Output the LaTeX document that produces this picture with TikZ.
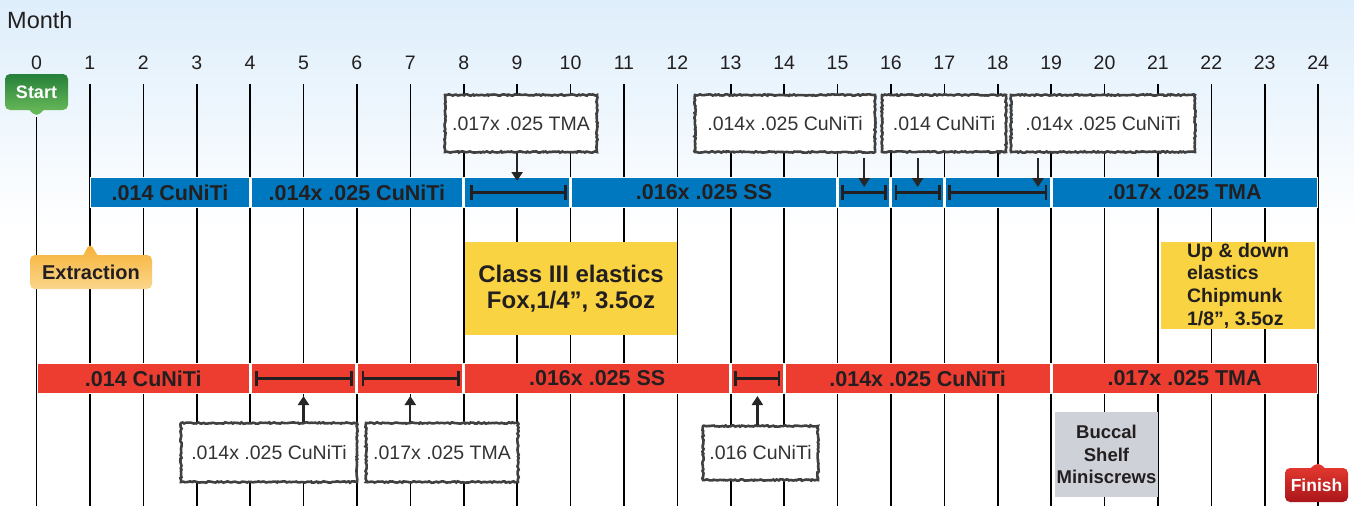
\documentclass[tikz,border=0pt]{standalone}
\usepackage{fontspec}
\setmainfont{Liberation Sans}
\usetikzlibrary{arrows.meta,shapes.callouts,decorations.pathmorphing}

\definecolor{barblue}{RGB}{0,120,192}
\definecolor{barred}{RGB}{237,60,48}
\definecolor{noteyellow}{RGB}{249,211,66}
\definecolor{notegray}{RGB}{206,209,215}
\definecolor{inkgray}{RGB}{35,31,32}
\definecolor{skyblue}{RGB}{222,238,251}
\definecolor{startdark}{RGB}{38,128,58}
\definecolor{startlight}{RGB}{112,192,92}
\definecolor{extrdark}{RGB}{246,176,50}
\definecolor{extrlight}{RGB}{250,214,140}
\definecolor{finlight}{RGB}{234,60,50}
\definecolor{findark}{RGB}{170,22,26}

\newcommand{\pxfont}[2]{\fontsize{#1}{#2}\selectfont}

\tikzset{
  month/.style={anchor=base,inner sep=0,text=inkgray,font=\pxfont{19.5}{22}},
  gridline/.style={line width=1.6,black},
  seg/.style={minimum height=30,inner sep=0,outer sep=0,draw=white,line width=1.5,
    text=inkgray,font=\bfseries\pxfont{21.5}{24}},
  blueseg/.style={seg,fill=barblue},
  redseg/.style={seg,fill=barred},
  wirespan/.style={{Bar[width=15]}-{Bar[width=15]},line width=2.8,inkgray},
  wirebox/.style={fill=white,draw=black!75,line width=2.6,decorate,
    decoration={random steps,segment length=1.8,amplitude=0.7},
    minimum height=57,inner sep=0,text=black!80,font=\pxfont{19.5}{22}},
  feedarrow/.style={-{Triangle[width=11,length=9]},line width=2.2,black!85},
  elastic/.style={fill=noteyellow,inner sep=0,align=center,text=inkgray},
  bubble/.style={rectangle callout,rounded corners=5,inner sep=0,
    callout pointer width=14,font=\bfseries\pxfont{18}{20}}
}

\begin{document}
\begin{tikzpicture}[x=1pt,y=1pt,yscale=-1]
\useasboundingbox (0,0) rectangle (1354,506);
\shade [top color=skyblue,bottom color=white] (0,0) rectangle (1354,230);

\node [anchor=base west,inner sep=0,text=inkgray,font=\pxfont{23.5}{26}] (title) at (7,28) {Month};

% month grid
\draw [gridline] (36.5,117) -- (36.5,506);   \node [month] (m0) at (36.5,69.5) {0};
\draw [gridline] (89.9,84) -- (89.9,506);    \node [month] (m1) at (89.9,69.5) {1};
\draw [gridline] (143.3,84) -- (143.3,506);  \node [month] (m2) at (143.3,69.5) {2};
\draw [gridline] (196.7,84) -- (196.7,506);  \node [month] (m3) at (196.7,69.5) {3};
\draw [gridline] (250.1,84) -- (250.1,506);  \node [month] (m4) at (250.1,69.5) {4};
\draw [gridline] (303.5,84) -- (303.5,506);  \node [month] (m5) at (303.5,69.5) {5};
\draw [gridline] (356.9,84) -- (356.9,506);  \node [month] (m6) at (356.9,69.5) {6};
\draw [gridline] (410.3,84) -- (410.3,506);  \node [month] (m7) at (410.3,69.5) {7};
\draw [gridline] (463.7,84) -- (463.7,506);  \node [month] (m8) at (463.7,69.5) {8};
\draw [gridline] (517.1,84) -- (517.1,506);  \node [month] (m9) at (517.1,69.5) {9};
\draw [gridline] (570.5,84) -- (570.5,506);  \node [month] (m10) at (570.5,69.5) {10};
\draw [gridline] (623.9,84) -- (623.9,506);  \node [month] (m11) at (623.9,69.5) {11};
\draw [gridline] (677.3,84) -- (677.3,506);  \node [month] (m12) at (677.3,69.5) {12};
\draw [gridline] (730.7,84) -- (730.7,506);  \node [month] (m13) at (730.7,69.5) {13};
\draw [gridline] (784.1,84) -- (784.1,506);  \node [month] (m14) at (784.1,69.5) {14};
\draw [gridline] (837.5,84) -- (837.5,506);  \node [month] (m15) at (837.5,69.5) {15};
\draw [gridline] (890.9,84) -- (890.9,506);  \node [month] (m16) at (890.9,69.5) {16};
\draw [gridline] (944.3,84) -- (944.3,506);  \node [month] (m17) at (944.3,69.5) {17};
\draw [gridline] (997.7,84) -- (997.7,506);  \node [month] (m18) at (997.7,69.5) {18};
\draw [gridline] (1051.1,84) -- (1051.1,506);\node [month] (m19) at (1051.1,69.5) {19};
\draw [gridline] (1104.5,84) -- (1104.5,506);\node [month] (m20) at (1104.5,69.5) {20};
\draw [gridline] (1157.9,84) -- (1157.9,506);\node [month] (m21) at (1157.9,69.5) {21};
\draw [gridline] (1211.3,84) -- (1211.3,506);\node [month] (m22) at (1211.3,69.5) {22};
\draw [gridline] (1264.7,84) -- (1264.7,506);\node [month] (m23) at (1264.7,69.5) {23};
\draw [gridline] (1318.1,84) -- (1318.1,506);\node [month] (m24) at (1318.1,69.5) {24};

% upper arch
\node [blueseg,minimum width=158.7] (b1) at (170,192.5) {.014 CuNiTi};
\node [blueseg,minimum width=212.1] (b2) at (356.9,192.5) {.014x .025 CuNiTi};
\node [blueseg,minimum width=105.3] (b3) at (517.1,192.5) {};
\node [blueseg,minimum width=265.5] (b4) at (704,192.5) {.016x .025 SS};
\node [blueseg,minimum width=51.9] (b5) at (864.2,192.5) {};
\node [blueseg,minimum width=51.9] (b6) at (917.6,192.5) {};
\node [blueseg,minimum width=105.3] (b7) at (997.7,192.5) {};
\node [blueseg,minimum width=265.5] (b8) at (1184.6,192.5) {.017x .025 TMA};
\draw [wirespan] ([xshift=6]b3.west) -- ([xshift=-3]b3.east);
\draw [wirespan] ([xshift=3]b5.west) -- ([xshift=-3]b5.east);
\draw [wirespan] ([xshift=3]b6.west) -- ([xshift=-3]b6.east);
\draw [wirespan] ([xshift=3]b7.west) -- ([xshift=-3]b7.east);

% lower arch
\node [redseg,minimum width=212.1] (r1) at (143.3,378.5) {.014 CuNiTi};
\node [redseg,minimum width=105.3] (r2) at (303.5,378.5) {};
\node [redseg,minimum width=105.3] (r3) at (410.3,378.5) {};
\node [redseg,minimum width=265.5] (r4) at (597.2,378.5) {.016x .025 SS};
\node [redseg,minimum width=51.9] (r5) at (757.4,378.5) {};
\node [redseg,minimum width=265.5] (r6) at (917.6,378.5) {.014x .025 CuNiTi};
\node [redseg,minimum width=265.5] (r7) at (1184.6,378.5) {.017x .025 TMA};
\draw [wirespan] ([xshift=4]r2.west) -- ([xshift=-3]r2.east);
\draw [wirespan] ([xshift=4]r3.west) -- ([xshift=-3]r3.east);
\draw [wirespan] ([xshift=3]r5.west) -- ([xshift=-3]r5.east);

% wire call-outs
\node [wirebox,minimum width=152] (t1) at (521,123.5) {.017x .025 TMA};
\node [wirebox,minimum width=180] (t2) at (785,123.5) {.014x .025 CuNiTi};
\node [wirebox,minimum width=124] (t3) at (944,123.5) {.014 CuNiTi};
\node [wirebox,minimum width=184] (t4) at (1103,123.5) {.014x .025 CuNiTi};
\coordinate (p1) at (517.1,181);
\coordinate (p2) at (864.2,187);
\coordinate (p3) at (917.6,187);
\coordinate (p4) at (1038,187);
\draw [feedarrow] (t1.south -| p1) -- (p1);
\draw [feedarrow,shorten <=5] (t2.south -| p2) -- (p2);
\draw [feedarrow,shorten <=5] (t3.south -| p3) -- (p3);
\draw [feedarrow,shorten <=5] (t4.south -| p4) -- (p4);

\node [wirebox,minimum width=176,minimum height=59] (d1) at (269,452.5) {.014x .025 CuNiTi};
\node [wirebox,minimum width=152,minimum height=59] (d2) at (442,452.5) {.017x .025 TMA};
\node [wirebox,minimum width=115,minimum height=54] (d3) at (760.5,453) {.016 CuNiTi};
\coordinate (q1) at (303.5,396);
\coordinate (q2) at (410.3,396);
\coordinate (q3) at (757.4,396);
\draw [feedarrow] (d1.north -| q1) -- (q1);
\draw [feedarrow] (d2.north -| q2) -- (q2);
\draw [feedarrow] (d3.north -| q3) -- (q3);

% elastics and miniscrews
\node [elastic,minimum width=212,minimum height=93,font=\bfseries\pxfont{24}{26.5}] (e1) at (571,288.5) {Class III elastics\\Fox,1/4”, 3.5oz};
\node [elastic,minimum width=154,minimum height=87,align=left,font=\bfseries\pxfont{19.5}{22.7}] (e2) at (1238,285.5) {Up \& down\\elastics\\Chipmunk\\1/8”, 3.5oz};
\node [fill=notegray,minimum width=103,minimum height=85,inner sep=0,align=center,text=inkgray,font=\bfseries\pxfont{18.5}{22.6}] (screws) at (1106.5,454.5) {Buccal\\Shelf\\Miniscrews};

% milestones
\node [bubble,minimum width=63,minimum height=36,top color=startdark,bottom color=startlight,text=white,callout absolute pointer={(36.5,117)}] (start) at (36.5,92) {Start};
\node [bubble,minimum width=122,minimum height=34,top color=extrdark,bottom color=extrlight,text=inkgray,font=\bfseries\pxfont{20}{22},callout absolute pointer={(89.9,243)}] (extract) at (91,272) {Extraction};
\node [bubble,minimum width=63,minimum height=34,top color=finlight,bottom color=findark,text=white,font=\bfseries\pxfont{17.5}{20},callout absolute pointer={(1318.1,462)}] (finish) at (1316.5,485) {Finish};

\end{tikzpicture}
\end{document}
